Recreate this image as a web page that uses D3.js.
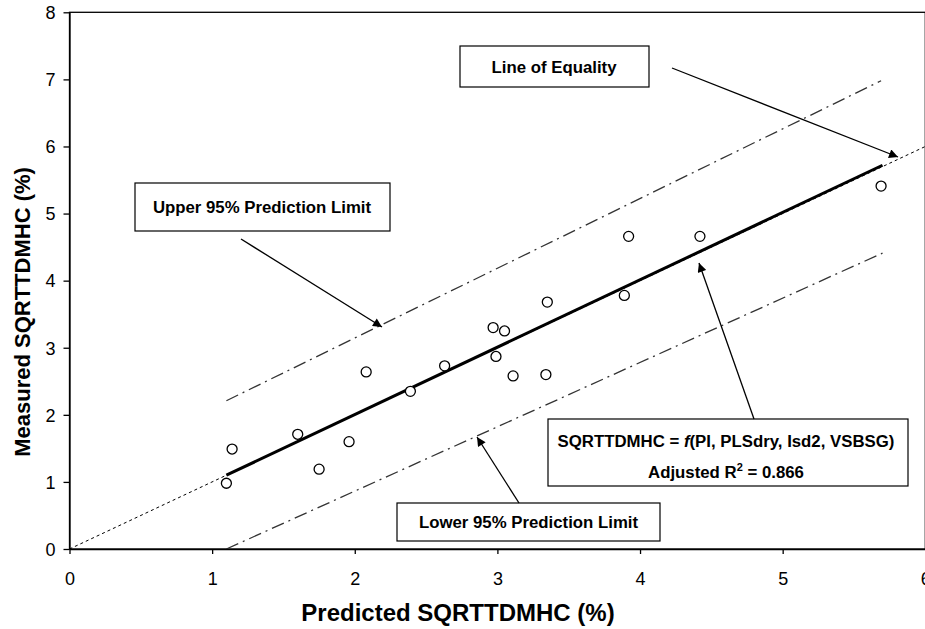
<!DOCTYPE html>
<html>
<head>
<meta charset="utf-8">
<script src="https://cdn.jsdelivr.net/npm/d3@7"></script>
<style>
  html, body { margin: 0; padding: 0; background: #fff; }
  svg { display: block; font-family: "Liberation Sans", Arial, sans-serif; }
</style>
</head>
<body>
<svg id="chart" width="925" height="629"></svg>
<script>
// Observed vs predicted SQRTTDMHC values
const predicted = [1.10, 1.14, 1.60, 1.75, 1.96, 2.08, 2.39, 2.63, 2.97, 2.99, 3.05, 3.11, 3.34, 3.35, 3.89, 3.92, 4.42, 5.69];
const measured  = [0.98, 1.49, 1.71, 1.19, 1.60, 2.64, 2.35, 2.73, 3.30, 2.87, 3.25, 2.58, 2.60, 3.68, 3.78, 4.66, 4.66, 5.41];

// Fitted line and 95% prediction limits (end points)
const fitX = [1.10, 5.70],   fitY = [1.10, 5.72];
const upperX = [1.10, 5.69], upperY = [2.21, 6.98];
const lowerX = [1.10, 5.70], lowerY = [0.00, 4.41];
const equalityX = [0, 6],    equalityY = [0, 6];

const xTicks = [0, 1, 2, 3, 4, 5, 6];
const yTicks = [0, 1, 2, 3, 4, 5, 6, 7, 8];

const svg = d3.select("#chart");
const x = d3.scaleLinear().domain([0, 6]).range([69.5, 925.3]);
const y = d3.scaleLinear().domain([0, 8]).range([549, 12.3]);

const zip = (a, b) => a.map((v, i) => [v, b[i]]);
const line = d3.line().x(d => x(d[0])).y(d => y(d[1]));

// plot frame (top / right edges)
svg.append("rect")
  .attr("x", x(0)).attr("y", y(8))
  .attr("width", x(6) - x(0)).attr("height", y(0) - y(8))
  .attr("fill", "none").attr("stroke", "#000").attr("stroke-width", 1.3);

svg.append("defs").append("marker")
  .attr("id", "arrow").attr("viewBox", "0 0 10 10")
  .attr("refX", 10).attr("refY", 5)
  .attr("markerWidth", 11).attr("markerHeight", 9)
  .attr("markerUnits", "userSpaceOnUse")
  .attr("orient", "auto")
  .append("path").attr("d", "M0,0 L10,5 L0,10 Z").attr("fill", "#000");

const plot = svg.append("g");
plot.append("clipPath").attr("id", "clip").append("rect")
  .attr("x", x(0)).attr("y", y(8)).attr("width", x(6) - x(0)).attr("height", y(0) - y(8));

// line of equality
plot.append("path").datum(zip(equalityX, equalityY))
  .attr("clip-path", "url(#clip)")
  .attr("d", line).attr("fill", "none").attr("stroke", "#000")
  .attr("stroke-width", 1).attr("stroke-dasharray", "3,3");

// prediction limits
[zip(upperX, upperY), zip(lowerX, lowerY)].forEach(pts => {
  plot.append("path").datum(pts)
    .attr("d", line).attr("fill", "none").attr("stroke", "#333")
    .attr("stroke-width", 1.3).attr("stroke-dasharray", "13,5,2,5");
});

// fitted line
plot.append("path").datum(zip(fitX, fitY))
  .attr("d", line).attr("fill", "none").attr("stroke", "#000")
  .attr("stroke-width", 3);

// observations
plot.selectAll("circle").data(zip(predicted, measured)).join("circle")
  .attr("cx", d => x(d[0])).attr("cy", d => y(d[1])).attr("r", 5)
  .attr("fill", "#fff").attr("stroke", "#000").attr("stroke-width", 1.3);

// axes
const xAxis = svg.append("g").attr("transform", `translate(0,${y(0)})`)
  .call(d3.axisBottom(x).tickValues(xTicks).tickFormat(d3.format("d")).tickSize(5).tickSizeOuter(0));
const yAxis = svg.append("g").attr("transform", `translate(${x(0)},0)`)
  .call(d3.axisLeft(y).tickValues(yTicks).tickFormat(d3.format("d")).tickSize(6).tickSizeOuter(0));
[xAxis, yAxis].forEach(g => {
  g.select(".domain").attr("stroke", "#000").attr("stroke-width", 1.3);
  g.selectAll(".tick line").attr("stroke", "#000").attr("stroke-width", 1.3);
  g.selectAll(".tick text").attr("fill", "#000")
    .style("font-size", "18px").style("font-family", "Liberation Sans, Arial, sans-serif");
});
xAxis.selectAll(".tick text").attr("dy", null).attr("y", 36);
yAxis.selectAll(".tick text").attr("x", -14).attr("dy", "0.35em");

// axis titles
svg.append("text").attr("x", 458).attr("y", 621).attr("text-anchor", "middle")
  .style("font-size", "24px").style("font-weight", "bold")
  .text("Predicted SQRTTDMHC (%)");
svg.append("text").attr("transform", "translate(30,312) rotate(-90)").attr("text-anchor", "middle")
  .style("font-size", "22px").style("font-weight", "bold")
  .text("Measured SQRTTDMHC (%)");

// annotation boxes
function box(x0, y0, x1, y1) {
  svg.append("rect").attr("x", x0).attr("y", y0).attr("width", x1 - x0).attr("height", y1 - y0)
    .attr("fill", "#fff").attr("stroke", "#000").attr("stroke-width", 1.2);
}
function label(tx, ty, str) {
  return svg.append("text").attr("x", tx).attr("y", ty).attr("text-anchor", "middle")
    .style("font-size", "16.8px").style("font-weight", "bold").text(str);
}
function arrow(x0, y0, x1, y1) {
  svg.append("line").attr("x1", x0).attr("y1", y0).attr("x2", x1).attr("y2", y1)
    .attr("stroke", "#000").attr("stroke-width", 1.3).attr("marker-end", "url(#arrow)");
}

box(460, 46, 649, 87);
label(554, 73, "Line of Equality");
arrow(672, 68, 898, 157);

box(135, 183, 390, 231);
label(262, 213, "Upper 95% Prediction Limit");
arrow(241, 239, 382, 327);

box(397, 503, 660, 541);
label(528.5, 528, "Lower 95% Prediction Limit");
arrow(519, 503, 477, 437);

box(548, 419, 908, 486);
const l1 = label(726, 447, "");
l1.append("tspan").text("SQRTTDMHC = ");
l1.append("tspan").style("font-style", "italic").text("f");
l1.append("tspan").text("(PI, PLSdry, Isd2, VSBSG)");
const l2 = label(726, 478, "");
l2.append("tspan").text("Adjusted R");
l2.append("tspan").attr("dy", -7).style("font-size", "11px").text("2");
l2.append("tspan").attr("dy", 7).text(" = 0.866");
arrow(754, 419, 699, 263);
</script>
</body>
</html>
